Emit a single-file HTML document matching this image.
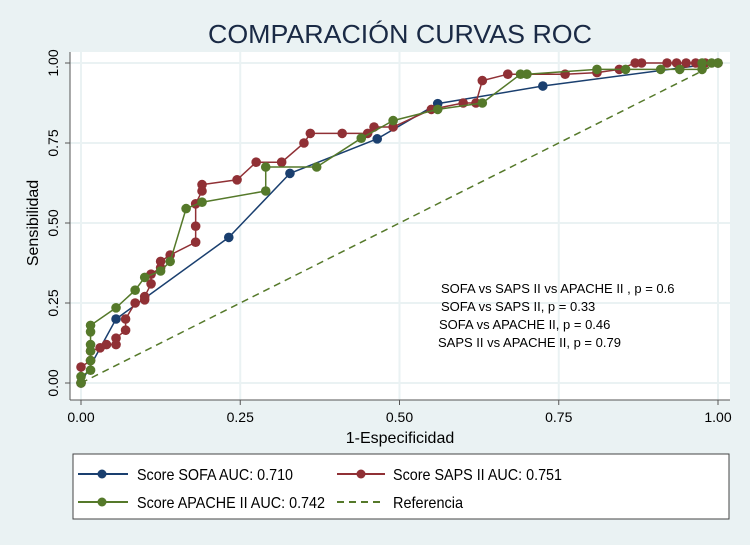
<!DOCTYPE html>
<html><head><meta charset="utf-8"><style>
body{margin:0;background:#eaf2f3;}
svg{display:block;font-family:"Liberation Sans",sans-serif;}
</style></head><body>
<svg id="c" width="750" height="545">
<rect x="0" y="0" width="750" height="545" fill="#eaf2f3"/>
<rect x="70" y="52" width="660" height="348" fill="#fff"/>
<text x="208" y="43" font-size="26" textLength="384" lengthAdjust="spacingAndGlyphs" fill="#1a2a45">COMPARACIÓN CURVAS ROC</text>
<g id="grid"></g><g id="axes"></g><g id="series"></g>
<text x="400" y="443" text-anchor="middle" font-size="16" fill="#000">1-Especificidad</text>
<text transform="translate(38,223) rotate(-90)" text-anchor="middle" font-size="16" fill="#000">Sensibilidad</text>
<g font-size="13" fill="#000">
<text x="441" y="293">SOFA vs SAPS II vs APACHE II , p = 0.6</text>
<text x="441" y="311">SOFA vs SAPS II, p = 0.33</text>
<text x="439" y="329">SOFA vs APACHE II, p = 0.46</text>
<text x="438" y="347">SAPS II vs APACHE II, p = 0.79</text>
</g>
<g>
<rect x="73" y="454" width="656" height="65" fill="#fff" stroke="#444" stroke-width="1"/>
<line x1="78" y1="474" x2="128" y2="474" stroke="#1a3f6f" stroke-width="2"/><circle cx="102" cy="474" r="4.5" fill="#1a3f6f"/>
<text x="137" y="480" font-size="16" textLength="156" lengthAdjust="spacingAndGlyphs">Score SOFA AUC: 0.710</text>
<line x1="337" y1="474" x2="385" y2="474" stroke="#903035" stroke-width="2"/><circle cx="361" cy="474" r="4.5" fill="#903035"/>
<text x="393" y="480" font-size="16" textLength="169" lengthAdjust="spacingAndGlyphs">Score SAPS II AUC: 0.751</text>
<line x1="78" y1="502" x2="128" y2="502" stroke="#55792a" stroke-width="2"/><circle cx="102" cy="502" r="4.5" fill="#55792a"/>
<text x="137" y="508" font-size="16" textLength="188" lengthAdjust="spacingAndGlyphs">Score APACHE II AUC: 0.742</text>
<line x1="337" y1="502" x2="385" y2="502" stroke="#55792a" stroke-width="2" stroke-dasharray="7,5"/>
<text x="393" y="508" font-size="16" textLength="70" lengthAdjust="spacingAndGlyphs">Referencia</text>
</g>
</svg>
<script>
const ticks=[0,0.25,0.5,0.75,1];
const tickLabels=["0.00","0.25","0.50","0.75","1.00"];
const sofaX=[0,0.055,0.232,0.328,0.465,0.56,0.725,1];
const sofaY=[0,0.2,0.455,0.655,0.763,0.873,0.928,1];
const sapsX=[0,0,0.015,0.015,0.03,0.04,0.055,0.055,0.07,0.07,0.085,0.1,0.1,0.11,0.11,0.125,0.125,0.14,0.18,0.18,0.18,0.19,0.19,0.245,0.275,0.315,0.35,0.36,0.41,0.45,0.46,0.49,0.55,0.6,0.62,0.63,0.67,0.76,0.81,0.845,0.87,0.88,0.92,0.935,0.95,0.965,0.98,1];
const sapsY=[0,0.05,0.07,0.1,0.11,0.12,0.12,0.14,0.165,0.2,0.25,0.26,0.27,0.31,0.34,0.36,0.38,0.4,0.44,0.49,0.56,0.6,0.62,0.635,0.69,0.69,0.75,0.78,0.78,0.78,0.8,0.8,0.855,0.875,0.875,0.945,0.965,0.965,0.97,0.98,1,1,1,1,1,1,1,1];
const apX=[0,0,0.015,0.015,0.015,0.015,0.015,0.015,0.055,0.085,0.1,0.125,0.14,0.165,0.19,0.29,0.29,0.37,0.44,0.49,0.56,0.63,0.69,0.7,0.81,0.855,0.91,0.94,0.975,0.975,0.99,1];
const apY=[0,0.02,0.04,0.07,0.1,0.12,0.16,0.18,0.235,0.29,0.33,0.35,0.38,0.545,0.565,0.6,0.675,0.675,0.765,0.82,0.855,0.875,0.965,0.965,0.98,0.98,0.98,0.98,0.98,1,1,1];
const NS="http://www.w3.org/2000/svg";
const sx=v=>81+637*v, sy=v=>383-320*v;
function mk(t,a,p){const e=document.createElementNS(NS,t);for(const k in a)e.setAttribute(k,a[k]);p.appendChild(e);return e;}
const grid=document.getElementById('grid'),axes=document.getElementById('axes'),ser=document.getElementById('series');
ticks.forEach((t,i)=>{
 let g=mk('line',{x1:sx(t),x2:sx(t),y1:52,y2:400,stroke:'#eaf2f3','stroke-width':2},grid);
 
 
 g=mk('line',{x1:70,x2:730,y1:sy(t),y2:sy(t),stroke:'#eaf2f3','stroke-width':2},grid);
 
 
 mk('line',{x1:sx(t),x2:sx(t),y1:400,y2:405,stroke:'#555'},axes);
 mk('line',{x1:65,x2:70,y1:sy(t),y2:sy(t),stroke:'#555'},axes);
 let tx=mk('text',{x:sx(t),y:422,'text-anchor':'middle','font-size':14},axes);tx.textContent=tickLabels[i];
 
 
 let ty=mk('text',{transform:`translate(58,${sy(t)}) rotate(-90)`,'text-anchor':'middle','font-size':14},axes);ty.textContent=tickLabels[i];
 
 
});
mk('line',{x1:70,x2:70,y1:52,y2:400,stroke:'#555'},axes);
mk('line',{x1:70,x2:730,y1:400,y2:400,stroke:'#555'},axes);
const ref=mk('line',{x1:sx(0),y1:sy(0),x2:sx(1),y2:sy(1),stroke:'#55792a','stroke-width':1.5,'stroke-dasharray':'7,5'},ser);


function series(X,Y,col,name){
 const pl=mk('polyline',{points:X.map((x,i)=>sx(x)+','+sy(Y[i])).join(' '),fill:'none',stroke:col,'stroke-width':1.5},ser);
 
 
 X.forEach((x,i)=>{const c=mk('circle',{cx:sx(x),cy:sy(Y[i]),r:4.8,fill:col},ser);
 
 });
}
series(sofaX,sofaY,'#1a3f6f','sofa');
series(sapsX,sapsY,'#903035','saps');
series(apX,apY,'#55792a','apache');
</script>
</body></html>
